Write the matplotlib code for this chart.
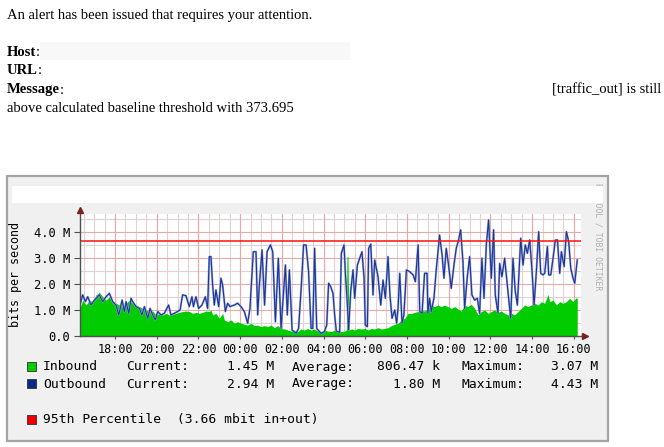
import matplotlib
matplotlib.use("Agg")
import matplotlib.pyplot as plt
from matplotlib.patches import Rectangle

# time axis: hours after 18:00 of the first day
out_hours = [-1.68, -1.55, -1.42, -1.31, -1.15, -0.99, -0.75, -0.59, -0.43, -0.27,
             -0.11, 0.05, 0.18, 0.34, 0.45, 0.53, 0.66, 0.77, 0.85, 1.01,
             1.17, 1.29, 1.41, 1.57, 1.68, 1.81, 1.93, 2.05, 2.21, 2.36,
             2.57, 2.68, 2.84, 3.00, 3.12, 3.24, 3.40, 3.56, 3.69, 3.76,
             3.88, 4.01, 4.17, 4.33, 4.44, 4.52, 4.60, 4.68, 4.76, 4.84,
             4.97, 5.08, 5.16, 5.29, 5.40, 5.51, 5.72, 5.88, 6.04, 6.20,
             6.36, 6.47, 6.63, 6.76, 6.84, 6.92, 7.05, 7.17, 7.29, 7.45,
             7.56, 7.69, 7.83, 7.96, 8.07, 8.17, 8.26, 8.36, 8.49, 8.68,
             8.80, 8.93, 9.04, 9.16, 9.28, 9.40, 9.48, 9.57, 9.67, 9.88,
             10.04, 10.15,
             10.24, 10.34, 10.45, 10.53, 10.61, 10.77, 10.85, 10.98, 11.04, 11.14,
             11.20, 11.30, 11.41, 11.49, 11.62, 11.73, 11.84, 11.94, 12.00, 12.10,
             12.16, 12.26, 12.37, 12.45, 12.53, 12.61, 12.74, 12.85, 12.96, 13.09,
             13.18, 13.28, 13.41, 13.50, 13.57, 13.65, 13.76, 13.85, 13.97, 14.13,
             14.29, 14.40, 14.53, 14.61, 14.72, 14.84, 14.96, 15.00, 15.08, 15.16,
             15.29, 15.40, 15.56, 15.68, 15.77, 15.88, 15.99, 16.12, 16.25, 16.36,
             16.47, 16.57, 16.68, 16.76, 16.89, 17.00, 17.11, 17.24, 17.37, 17.48,
             17.59, 17.69, 17.80, 17.91, 18.04, 18.15, 18.23, 18.36, 18.44, 18.55,
             18.68, 18.79, 18.87, 18.97, 19.08, 19.19, 19.29, 19.45, 19.56, 19.67,
             19.77, 19.88, 19.99, 20.09, 20.20, 20.31, 20.41, 20.52, 20.60, 20.73,
             20.79, 20.89, 21.00, 21.11, 21.21, 21.32, 21.40, 21.53, 21.64, 21.75,
             21.85, 21.96, 22.04, 22.16]
out_mbit = [1.19, 1.58, 1.32, 1.51, 1.19, 1.38, 1.58, 1.32, 1.51, 1.64,
            1.32, 1.19, 0.81, 1.38, 0.94, 1.32, 0.87, 1.45, 1.32, 1.13,
            1.06, 0.81, 1.13, 0.68, 1.06, 0.81, 0.62, 0.94, 0.81, 0.87,
            1.19, 0.81, 0.87, 0.94, 1.00, 1.58, 1.55, 1.13, 1.51, 1.13,
            1.51, 1.06, 1.19, 1.51, 1.06, 3.05, 3.05, 1.96, 1.19, 1.77,
            1.13, 2.22, 1.96, 0.94, 1.26, 1.13, 1.19, 1.26, 1.13, 0.94,
            0.49, 1.06, 3.24, 3.24, 0.81, 1.96, 3.31, 1.19, 3.24, 3.50,
            3.24, 0.55, 2.99, 0.29, 1.58, 2.73, 0.81, 2.54, 0.23, 0.10,
            0.29, 1.90, 3.50, 3.50, 2.47, 0.29, 0.29, 3.37, 0.29, 0.10,
            0.17, 0.42,
            2.03, 1.90, 1.64, 0.81, 0.19, 0.14, 3.18, 3.50, 2.47, 1.19,
            0.23, 1.71, 2.54, 1.45, 2.73, 2.99, 3.24, 2.22, 0.42, 0.36,
            3.37, 3.53, 1.58, 2.92, 2.60, 2.28, 1.19, 2.15, 1.45, 3.05,
            1.58, 0.68, 1.00, 0.49, 1.06, 2.41, 0.49, 0.81, 2.54, 2.47,
            2.35, 2.09, 3.50, 0.94, 0.87, 2.41, 2.41, 0.87, 1.45, 0.94,
            1.45, 2.54, 3.88, 3.12, 2.22, 3.37, 2.73, 1.83, 2.73, 3.37,
            3.69, 4.08, 2.86, 1.06, 2.28, 3.05, 1.58, 1.38, 1.45, 0.87,
            2.99, 1.45, 3.50, 4.46, 2.22, 4.08, 1.58, 0.87, 2.79, 2.28,
            2.99, 2.09, 1.45, 0.68, 2.99, 1.71, 1.19, 3.76, 2.73, 3.50,
            3.18, 3.69, 2.54, 1.19, 2.47, 4.01, 2.41, 2.35, 2.41, 3.44,
            2.35, 2.35, 2.99, 3.69, 3.69, 2.41, 3.24, 2.67, 4.01, 3.63,
            2.60, 2.22, 2.03, 2.92]

in_hours = [-1.68, -1.55, -1.39, -1.23, -1.07, -0.91, -0.75, -0.59, -0.43, -0.27,
            -0.11, 0.05, 0.21, 0.37, 0.53, 0.69, 0.85, 1.01, 1.17, 1.33,
            1.49, 1.65, 1.81, 1.97, 2.13, 2.29, 2.44, 2.60, 2.76, 2.92,
            3.08, 3.24, 3.40, 3.56, 3.72, 3.88, 4.04, 4.20, 4.36, 4.52,
            4.60, 4.68, 4.84, 5.00, 5.16, 5.24, 5.40, 5.56, 5.72, 5.88,
            6.04, 6.20, 6.36, 6.52, 6.68, 6.84, 7.00, 7.16, 7.32, 7.48,
            7.64, 7.80, 7.96, 8.12, 8.28, 8.44, 8.60, 8.76, 8.92, 9.08,
            9.24, 9.40, 9.56, 9.71, 9.88, 10.04, 10.19,
            10.37, 10.53, 10.69, 10.85, 11.01, 11.09, 11.12, 11.17, 11.22, 11.33,
            11.49, 11.65, 11.81, 11.97, 12.13, 12.29, 12.45, 12.61, 12.77, 12.93,
            13.09, 13.25, 13.41, 13.57, 13.73, 13.89, 14.05, 14.21, 14.37, 14.53,
            14.69, 14.84, 15.00, 15.16, 15.32, 15.48, 15.64, 15.80, 15.96, 16.12,
            16.28, 16.44, 16.60, 16.76, 16.92, 17.08, 17.24, 17.40, 17.56, 17.72,
            17.88, 18.04, 18.20, 18.36, 18.52, 18.68, 18.84, 19.00, 19.16, 19.32,
            19.48, 19.64, 19.80, 19.96, 20.12, 20.28, 20.44, 20.60, 20.76, 20.84,
            21.00, 21.16, 21.32, 21.48, 21.64, 21.79, 21.95, 22.11, 22.16]
in_mbit = [1.06, 1.38, 1.19, 1.38, 1.32, 1.58, 1.68, 1.51, 1.38, 1.51,
           1.32, 1.26, 1.19, 1.13, 1.26, 1.38, 1.26, 1.19, 1.13, 1.06,
           1.00, 0.94, 0.96, 0.81, 0.87, 0.81, 0.87, 0.81, 0.83, 0.87,
           0.91, 0.94, 0.96, 0.94, 0.87, 0.91, 0.87, 0.91, 0.96, 0.94,
           1.00, 0.81, 0.87, 0.68, 0.87, 0.62, 0.55, 0.62, 0.49, 0.55,
           0.49, 0.45, 0.42, 0.49, 0.40, 0.42, 0.36, 0.40, 0.36, 0.42,
           0.32, 0.40, 0.29, 0.27, 0.23, 0.19, 0.23, 0.17, 0.27, 0.23,
           0.29, 0.23, 0.27, 0.19, 0.17, 0.23, 0.19,
           0.17, 0.23, 0.19, 0.17, 0.19, 0.23, 3.05, 3.05, 0.23, 0.27,
           0.23, 0.29, 0.27, 0.29, 0.23, 0.29, 0.27, 0.32, 0.27, 0.29,
           0.32, 0.40, 0.45, 0.49, 0.62, 0.68, 0.87, 0.87, 0.91, 0.94,
           1.00, 0.96, 1.06, 1.19, 1.13, 1.19, 1.13, 1.19, 1.13, 1.06,
           1.13, 1.04, 0.96, 1.19, 1.13, 1.22, 1.06, 0.81, 0.94, 1.00,
           0.87, 0.94, 1.00, 0.91, 0.96, 0.87, 0.81, 0.87, 0.81, 0.94,
           1.06, 1.19, 1.13, 1.19, 1.26, 1.19, 1.32, 1.26, 1.60, 1.32,
           1.38, 1.19, 1.32, 1.26, 1.32, 1.45, 1.32, 1.47, 1.45]

percentile_95 = 3.66
tick_hours = [0, 2, 4, 6, 8, 10, 12, 14, 16, 18, 20, 22]
tick_labels = ["18:00", "20:00", "22:00", "00:00", "02:00", "04:00",
               "06:00", "08:00", "10:00", "12:00", "14:00", "16:00"]
y_ticks = [0, 1, 2, 3, 4]
y_labels = ["0.0", "1.0 M", "2.0 M", "3.0 M", "4.0 M"]

series_names = ["Inbound", "Outbound"]
series_colors = ["#00cc00", "#0a2a8a"]
cur_vals = ["1.45 M", "2.94 M"]
avg_vals = ["806.47 k", "1.80 M"]
max_vals = ["3.07 M", "4.43 M"]

mono = "DejaVu Sans Mono"
serif = "Liberation Serif"
fs_mail = 10.5
fs_leg = 9.4

fig = plt.figure(figsize=(6.64, 4.47), dpi=100)
fig.patch.set_facecolor("white")

# background layer in pixel units
bg = fig.add_axes([0, 0, 1, 1])
bg.set_xlim(0, 664)
bg.set_ylim(447, 0)
bg.axis("off")

# email text (baselines)
bg.add_patch(Rectangle((40, 42), 310, 18, facecolor="#f8f8f8", edgecolor="none"))
bg.text(7, 18.5, "An alert has been issued that requires your attention.",
        family=serif, fontsize=fs_mail, va="baseline")
for yy, lab in [(55.5, "Host"), (74.5, "URL"), (93.5, "Message")]:
    t = bg.text(7, yy, lab, family=serif, fontsize=fs_mail, weight="bold", va="baseline")
    bg.annotate(":", xycoords=t, xy=(1, 0), va="bottom", family=serif, fontsize=fs_mail)
bg.text(661, 93.5, "[traffic_out] is still", family=serif, fontsize=fs_mail,
        va="baseline", ha="right")
bg.text(7, 112.5, "above calculated baseline threshold with 373.695",
        family=serif, fontsize=fs_mail, va="baseline")

# graph panel
bg.add_patch(Rectangle((7, 176), 601, 265, facecolor="#f0f0f0",
                       edgecolor="#a4a4a4", lw=1.6, zorder=1))
bg.text(598, 183, "RRDTOOL / TOBI OETIKER", rotation=270, va="top", ha="center",
        family=mono, fontsize=5.9, color="#b0b0b0", zorder=2)
bg.add_patch(Rectangle((12, 186), 591, 17, facecolor="white",
                       edgecolor="none", zorder=3))

# legend
rows_y = [366, 383]
for i in range(2):
    y = rows_y[i]
    b = y + 4.5
    bg.add_patch(Rectangle((27, y - 4.5), 9, 9, facecolor=series_colors[i],
                           edgecolor="#303030", lw=0.6, zorder=4))
    bg.text(43, b, series_names[i], family=mono, fontsize=fs_leg, va="baseline", zorder=4)
    bg.text(126, b, "Current:", family=mono, fontsize=fs_leg, va="baseline", zorder=4)
    bg.text(274, b, cur_vals[i], family=mono, fontsize=fs_leg, va="baseline", ha="right", zorder=4)
    bg.text(292, b, "Average:", family=mono, fontsize=fs_leg, va="baseline", zorder=4)
    bg.text(440, b, avg_vals[i], family=mono, fontsize=fs_leg, va="baseline", ha="right", zorder=4)
    bg.text(461, b, "Maximum:", family=mono, fontsize=fs_leg, va="baseline", zorder=4)
    bg.text(598, b, max_vals[i], family=mono, fontsize=fs_leg, va="baseline", ha="right", zorder=4)
bg.add_patch(Rectangle((27, 419 - 4.5), 9, 9, facecolor="#ee0000",
                       edgecolor="#303030", lw=0.6, zorder=4))
bg.text(43, 423.5, "95th Percentile  (%.2f mbit in+out)" % percentile_95,
        family=mono, fontsize=fs_leg, va="baseline", zorder=4)

# plot area
ax = fig.add_axes([80 / 664, 1 - 336 / 447, 501 / 664, 122 / 447])
ax.set_facecolor("white")
ax.set_xlim(-1.678, 22.34)
ax.set_ylim(0, 4.69)

for h in range(-1, 23):
    ax.axvline(h - 0.5, color="#e0d2d2", lw=0.8, zorder=1)
    ax.axvline(h, color="#e0d2d2", lw=0.8, zorder=1)
for h in tick_hours:
    ax.axvline(h, color="#e8a8a8", lw=0.8, zorder=1.1)
for v in [0.5, 1.5, 2.5, 3.5, 4.5]:
    ax.axhline(v, color="#e0d2d2", lw=0.8, zorder=1)
for v in y_ticks[1:]:
    ax.axhline(v, color="#e8a8a8", lw=0.8, zorder=1.1)

ax.fill_between(in_hours, in_mbit, color="#00cc00", lw=0, zorder=2)
ax.plot(out_hours, out_mbit, color="#98a6dc", lw=1.5, zorder=3)
ax.plot(out_hours, out_mbit, color="#1a3593", lw=0.8, zorder=4)
ax.axhline(percentile_95, color="#ff1010", lw=1.1, zorder=5)

for s in ax.spines.values():
    s.set_visible(False)
ax.plot([0, 1.008], [0, 0], transform=ax.transAxes, color="#505050",
        lw=1, clip_on=False, zorder=6)
ax.plot([0, 0], [0, 1.03], transform=ax.transAxes, color="#505050",
        lw=1, clip_on=False, zorder=6)
ax.plot([1.008], [0], marker=">", ms=4, color="#7a2020", transform=ax.transAxes,
        clip_on=False, zorder=7)
ax.plot([0], [1.035], marker="^", ms=4, color="#7a2020", transform=ax.transAxes,
        clip_on=False, zorder=7)

ax.set_xticks(tick_hours)
ax.set_xticklabels(tick_labels, family=mono, fontsize=8.5)
ax.set_yticks(y_ticks)
ax.set_yticklabels(y_labels, family=mono, fontsize=8.7)
ax.tick_params(axis="x", length=2, pad=3, color="#505050")
ax.tick_params(axis="y", length=4, pad=3, color="#505050")
ax.set_ylabel("bits per second", family=mono, fontsize=8.4)
ax.yaxis.set_label_coords(-0.116, 0.508)

fig.savefig("out.png", dpi=100, facecolor="white")
